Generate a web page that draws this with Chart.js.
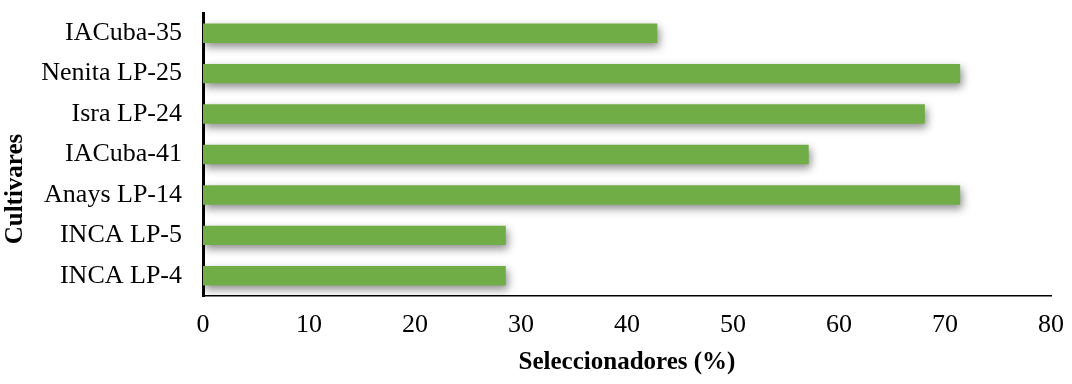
<!DOCTYPE html>
<html>
<head>
<meta charset="utf-8">
<script src="https://cdn.jsdelivr.net/npm/chart.js@4"></script>
<style>
  html, body { margin: 0; padding: 0; background: #ffffff; }
  #wrap { width: 1072px; height: 384px; }
</style>
</head>
<body>
<div id="wrap"><canvas id="c" width="1072" height="384"></canvas></div>
<script>
const categories = ["IACuba-35", "Nenita LP-25", "Isra LP-24", "IACuba-41", "Anays LP-14", "INCA LP-5", "INCA LP-4"];
const values = [42.86, 71.43, 68.1, 57.14, 71.43, 28.57, 28.57];
const xTicks = [0, 10, 20, 30, 40, 50, 60, 70, 80];
const xTitle = "Seleccionadores (%)";
const yTitle = "Cultivares";

const fontFamily = "'Liberation Serif', 'Times New Roman', serif";

const shadowPlugin = {
  id: 'barShadow',
  beforeDatasetDraw(chart) {
    const ctx = chart.ctx;
    ctx.save();
    ctx.shadowColor = 'rgba(0,0,0,0.45)';
    ctx.shadowBlur = 8;
    ctx.shadowOffsetX = 2;
    ctx.shadowOffsetY = 4;
  },
  afterDatasetDraw(chart) {
    chart.ctx.restore();
  }
};

const yTitlePlugin = {
  id: 'yTitle',
  afterDraw(chart) {
    const ctx = chart.ctx;
    ctx.save();
    ctx.translate(16, 189);
    ctx.rotate(-Math.PI / 2);
    ctx.font = "bold 25px " + fontFamily;
    ctx.fillStyle = '#000000';
    ctx.textAlign = 'center';
    ctx.textBaseline = 'middle';
    ctx.fillText(yTitle, 0, 0);
    ctx.restore();
  }
};

function zeroPad(scale) {
  scale.paddingTop = 0; scale.paddingBottom = 0;
  scale.paddingLeft = 0; scale.paddingRight = 0;
}

const font = { family: fontFamily, size: 26 };

new Chart(document.getElementById('c'), {
  type: 'bar',
  data: {
    labels: categories,
    datasets: [{
      data: values,
      backgroundColor: '#70AD47',
      borderWidth: 0,
      barPercentage: 0.48,
      categoryPercentage: 1.0
    }]
  },
  plugins: [shadowPlugin, yTitlePlugin],
  options: {
    indexAxis: 'y',
    responsive: false,
    animation: false,
    layout: { padding: { top: 13, right: 21, left: 0, bottom: 0 } },
    plugins: { legend: { display: false }, tooltip: { enabled: false } },
    scales: {
      x: {
        min: 0, max: 80,
        afterBuildTicks(scale) { scale.ticks = xTicks.map(v => ({ value: v })); },
        afterFit(scale) { scale.height = 88; zeroPad(scale); },
        grid: { display: false, drawTicks: false },
        border: { display: true, color: '#000000', width: 1.5 },
        ticks: { color: '#000000', font: font, padding: 14, maxRotation: 0 },
        title: { display: true, text: xTitle, color: '#000000',
                 font: { family: fontFamily, size: 25, weight: 'bold' },
                 padding: { top: 0, bottom: 6 } }
      },
      y: {
        afterFit(scale) { scale.width = 203; zeroPad(scale); },
        grid: { display: false, drawTicks: false },
        border: { display: true, color: '#000000', width: 3 },
        ticks: { color: '#000000', font: font, padding: 21 },
        title: { display: false }
      }
    }
  }
});
</script>
</body>
</html>
